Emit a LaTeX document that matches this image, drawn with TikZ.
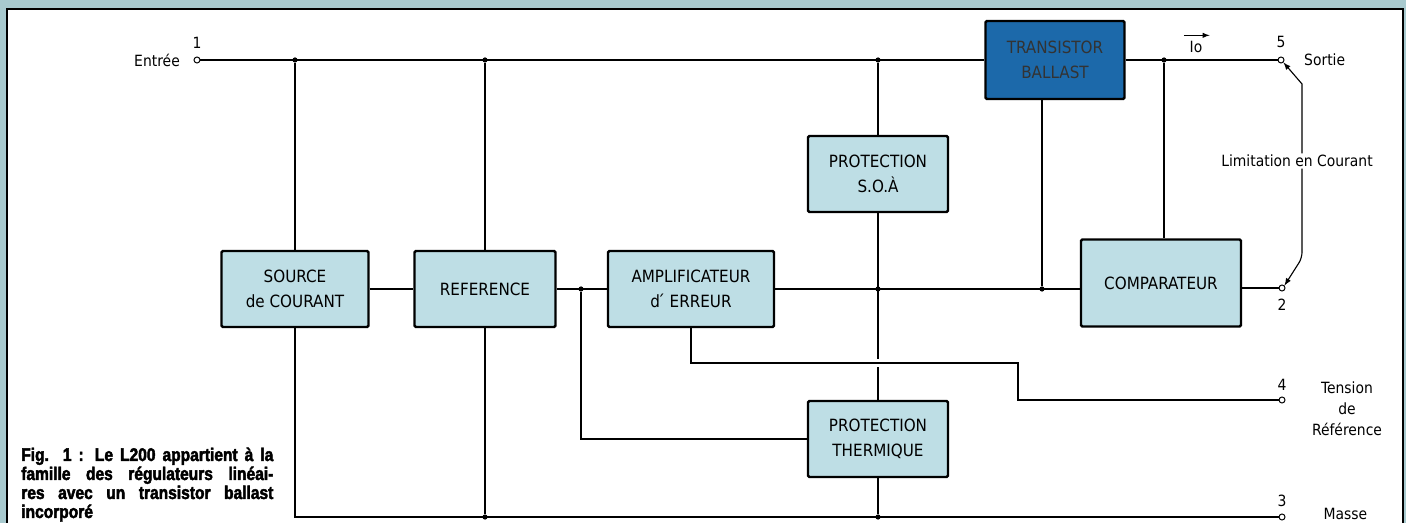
\documentclass[tikz,border=0pt]{standalone}
\usepackage{fontspec}
\usepackage{xcolor}
\usepackage{tikz}
\usetikzlibrary{positioning,arrows}

\newfontfamily\dinfont{DejaVu Sans Condensed}
\newfontfamily\capfont[FakeStretch=0.85, BoldFeatures={FakeStretch=0.85, FakeBold=2.5}]{Liberation Sans}
\definecolor{framebg}{RGB}{168,202,207}
\definecolor{boxfill}{RGB}{190,222,229}
\definecolor{ballast}{RGB}{28,105,170}

\begin{document}
\begin{tikzpicture}[
    x=0.025cm, y=-0.025cm,
    blk/.style={
      draw, line width=1.7pt, fill=boxfill, rounded corners=1pt,
      align=center, minimum width=3.5cm, minimum height=1.9cm,
      font=\dinfont\fontsize{12}{18}\selectfont
    },
    term/.style={draw, circle, fill=white, inner sep=0pt, minimum size=0.15cm, line width=0.7pt},
    dot/.style={circle, fill, inner sep=0pt, minimum size=0.13cm},
    lbl/.style={font=\dinfont\fontsize{11}{15}\selectfont, inner sep=1pt},
    wire/.style={line width=1.1pt},
    >=latex
]

  % background and frame
  \useasboundingbox (0,0) rectangle (1406,523);
  \fill[framebg] (0,0) rectangle (1406,523);
  \draw[fill=white, line width=1.4pt] (7,9) rectangle (1403,560);

  % Define the blocks
  \node[blk, minimum width=3.675cm] (src) at (295,289) {SOURCE\\de COURANT};
  \node[blk, minimum width=3.525cm] (ref) at (485,289) {REFERENCE};
  \node[blk, minimum width=4.15cm] (amp) at (691,289) {AMPLIFICATEUR\\d\'{} ERREUR};
  \node[blk] (soa) at (878,174) {PROTECTION\\S.O.À};
  \node[blk] (therm) at (878,439) {PROTECTION\\THERMIQUE};
  \node[blk, fill=ballast, text=black!80, minimum width=3.475cm, minimum height=1.95cm] (trans) at (1055,60) {TRANSISTOR\\BALLAST};
  \node[blk, minimum width=4cm, minimum height=2.175cm] (cmp) at (1161,283) {COMPARATEUR};

  % terminals
  \foreach \name/\pos in {t1/{(197,60)}, t5/{(1281,60)}, t2/{(1282,288)}, t4/{(1282,400)}, t3/{(1282,517)}}
  \node[term] (\name) at \pos {};

  % junctions
  \foreach \name/\pos in {jsrc/{(295,60)}, jref/{(485,60)}, jsoa/{(878,60)}, jcmp/{(1164,60)},
    jamp/{(581,289)}, jmid/{(878,289)}, jtr/{(1042,289)}, jgnd1/{(485,517)}, jgnd2/{(878,517)}}
  \node[dot] (\name) at \pos {};

  \coordinate (bend) at (1018,363);
  \coordinate (l1) at (1302,84);
  \coordinate (l2) at (1302,258);

  % input rail
  \draw[wire] (t1) -- (trans.west);
  \draw[wire] (trans.east) -- (t5);
  \draw[wire] (jsrc) -- (src.north);
  \draw[wire] (jref) -- (ref.north);
  \draw[wire] (jsoa) -- (soa.north);
  \draw[wire] (jcmp) -- (jcmp |- cmp.north);

  % signal path
  \draw[wire] (src) -- (ref);
  \draw[wire] (ref) -- (amp);
  \draw[wire] (amp) -- (amp.east -| cmp.west);
  \draw[wire] (jtr |- trans.south) -- (jtr);
  \draw[wire] (soa.south) -- (therm.north);
  \draw[wire] (jamp) |- (therm.west);
  \draw[wire, preaction={draw=white, line width=5pt, shorten <=30pt, shorten >=30pt}]
    (amp.south) |- (bend) |- (t4);
  \draw[wire] (cmp.east |- t2) -- (t2);

  % ground rail
  \draw[wire] (src.south) |- (t3);
  \draw[wire] (ref.south) -- (jgnd1);
  \draw[wire] (therm.south) -- (jgnd2);

  % terminal labels
  \node[lbl] (n1) at (197,43) {1};
  \node[lbl, left=0.3cm of t1] (entree) {Entrée};
  \node[lbl] (n5) at (1281,42) {5};
  \node[lbl, right=0.45cm of t5] (sortie) {Sortie};
  \node[lbl, below=0.15cm of t2] (n2) {2};
  \node[lbl] (n4) at (1282,385) {4};
  \node[lbl, align=center, font=\dinfont\fontsize{11}{15}\selectfont] (tension) at (1347,409) {Tension\\de\\Référence};
  \node[lbl] (n3) at (1282,501) {3};
  \node[lbl, anchor=west] (masse) at (1322,514) {Masse};

  % output current
  \node[lbl] (io) at (1196,47) {Io};
  \draw[->, line width=0.7pt] ([xshift=-3pt,yshift=3pt]io.north west) -- ([xshift=4pt,yshift=3pt]io.north east);

  % current limitation
  \node[lbl] (lim) at (1297,161) {Limitation en Courant};
  \draw[->, line width=0.8pt] (lim.north -| l1) -- (l1) -- (t5.south east);
  \draw[->, line width=0.8pt, rounded corners=4pt] (lim.south -| l2) -- (l2) -- (t2.north east);

  % caption
  \node[anchor=base west, text width=6.3cm, align=justify, inner sep=0pt,
    font=\capfont\bfseries\fontsize{13}{13.5}\selectfont] (cap) at (21,461)
    {Fig. 1 : Le L200 appartient à la\linebreak famille des régulateurs linéai-\linebreak res avec un transistor ballast\linebreak incorporé};

\end{tikzpicture}
\end{document}
